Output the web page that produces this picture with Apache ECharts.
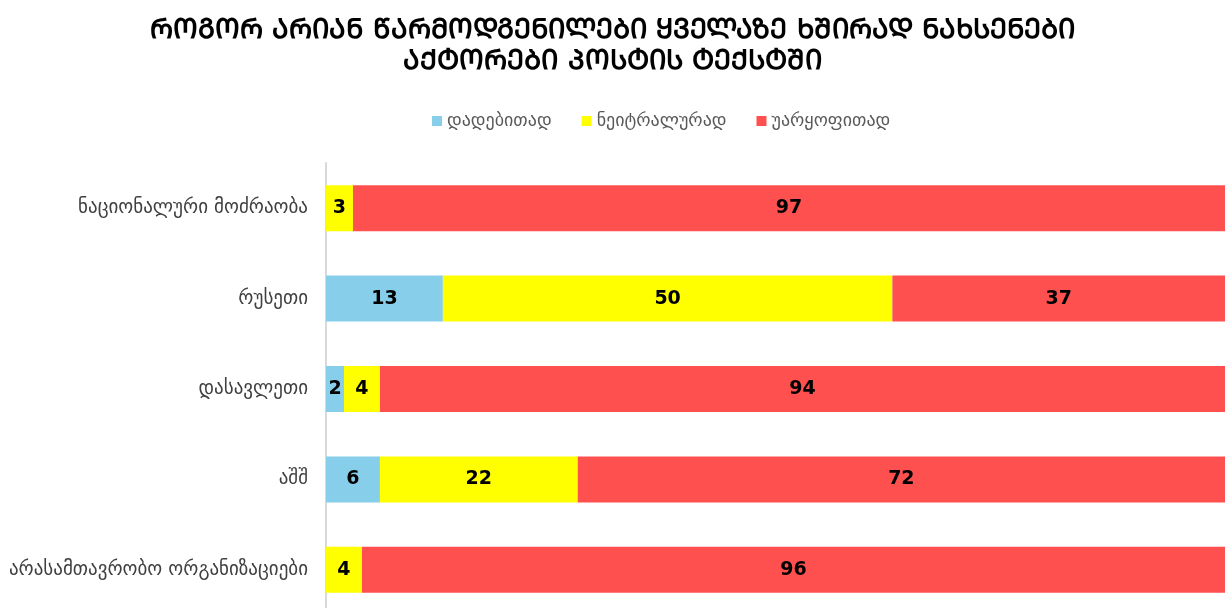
<!DOCTYPE html>
<html>
<head>
<meta charset="utf-8">
<script src="https://cdn.jsdelivr.net/npm/echarts@6/dist/echarts.min.js"></script>
<style>
  html, body { margin: 0; padding: 0; background: #fff; overflow: hidden; }
  #chart { width: 1225px; height: 620px; }
</style>
</head>
<body>
<div id="chart"></div>
<script>
// data, top to bottom
const categories = ['ნაციონალური მოძრაობა', 'რუსეთი', 'დასავლეთი', 'აშშ', 'არასამთავრობო ორგანიზაციები']
const seriesNames = ['დადებითად', 'ნეიტრალურად', 'უარყოფითად']
const positive = [0, 13, 2, 6, 0]
const neutral = [3, 50, 4, 22, 4]
const negative = [97, 37, 94, 72, 96]
const titleLines = ['როგორ არიან წარმოდგენილები ყველაზე ხშირად ნახსენები', 'აქტორები პოსტის ტექსტში']

// mkhedruli -> mtavruli (capital) letters
function toMtavruli(s) {
  return s.replace(/[\u10D0-\u10FA]/g, c => String.fromCharCode(c.charCodeAt(0) + 0x0BC0))
}

const colors = ['#87CEEB', '#FFFF00', '#FF5050']
const font = "'DejaVu Sans', 'Noto Sans', sans-serif"

const chart = echarts.init(document.getElementById('chart'))

function makeSeries(name, data, color) {
  return {
    name: name,
    type: 'bar',
    stack: 'total',
    barWidth: 46,
    data: data,
    itemStyle: { color: color },
    label: {
      show: true,
      color: '#000',
      fontWeight: 'bold',
      fontSize: 19,
      fontFamily: font,
      formatter: p => (p.value ? p.value : '')
    }
  }
}

const option = {
  animation: false,
  title: {
    text: titleLines.map(toMtavruli).join('\n'),
    left: 'center',
    top: 10,
    textStyle: {
      fontSize: 27.5,
      fontWeight: 'bold',
      color: '#000',
      lineHeight: 31,
      fontFamily: font
    }
  },
  legend: {
    data: seriesNames,
    top: 107,
    left: 427,
    itemWidth: 10,
    itemHeight: 10,
    itemGap: 30,
    icon: 'rect',
    textStyle: { fontSize: 18, color: '#595959', fontFamily: font }
  },
  grid: {
    left: 326,
    right: 0,
    top: 163,
    bottom: 5
  },
  xAxis: {
    type: 'value',
    min: 0,
    max: 100,
    show: false
  },
  yAxis: {
    type: 'category',
    inverse: true,
    data: categories,
    axisLine: { lineStyle: { color: '#d9d9d9', width: 2 } },
    axisTick: { show: false },
    axisLabel: {
      fontSize: 19,
      color: '#404040',
      margin: 18,
      fontFamily: font
    }
  },
  series: [
    makeSeries(seriesNames[0], positive, colors[0]),
    makeSeries(seriesNames[1], neutral, colors[1]),
    makeSeries(seriesNames[2], negative, colors[2])
  ]
}

chart.setOption(option)
</script>
</body>
</html>
